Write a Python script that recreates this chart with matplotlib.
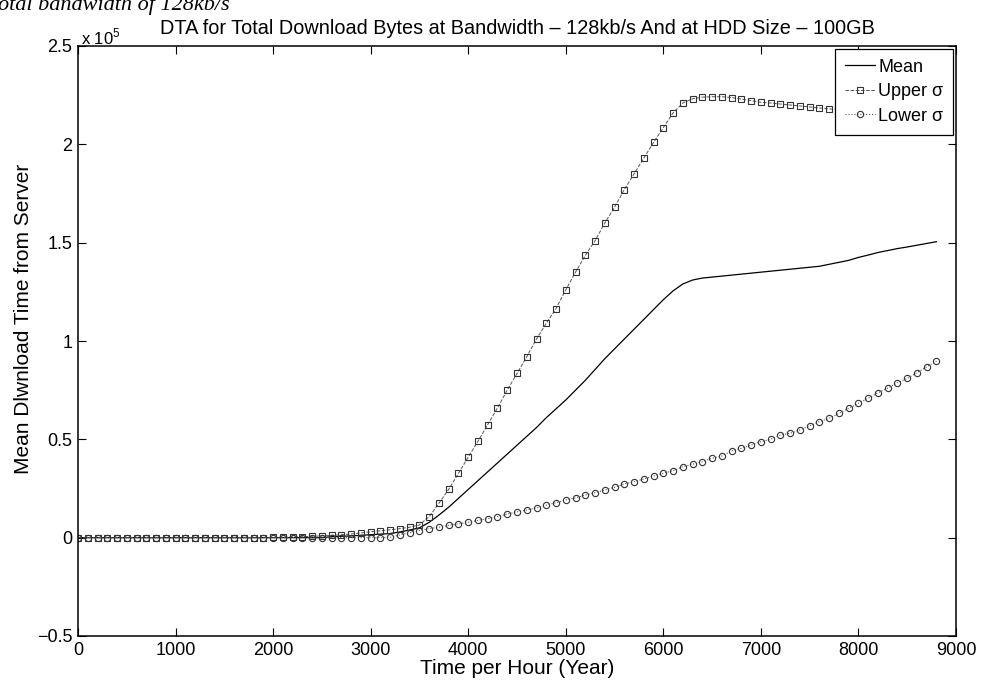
import numpy as np
import matplotlib
matplotlib.use('Agg')
import matplotlib.pyplot as plt
from matplotlib.ticker import FuncFormatter, MultipleLocator

plt.rcParams['font.family'] = ['Liberation Sans', 'DejaVu Sans']
plt.rcParams['mathtext.fontset'] = 'custom'
plt.rcParams['mathtext.rm'] = 'Liberation Sans'

# hours, one marker every 100 h
hours = list(range(0, 8900, 100))

# values in units of 1e5
mean_vals = [0.0] * 26 + [
    0.005, 0.007, 0.009, 0.012, 0.015, 0.018, 0.021, 0.029, 0.039, 0.05,
    0.078, 0.115, 0.155, 0.2, 0.245, 0.29, 0.335, 0.38, 0.425, 0.47,
    0.515, 0.56, 0.61, 0.655, 0.70, 0.75, 0.80, 0.855, 0.91, 0.96,
    1.01, 1.06, 1.11, 1.16, 1.21, 1.255, 1.29, 1.31, 1.32, 1.325,
    1.33, 1.335, 1.34, 1.345, 1.35, 1.355, 1.36, 1.365, 1.37, 1.375,
    1.38, 1.39, 1.40, 1.41, 1.425, 1.437, 1.45, 1.46, 1.47, 1.478,
    1.487, 1.496, 1.505]

upper_vals = [0.0] * 20 + [
    0.002, 0.003, 0.004, 0.005, 0.007, 0.009, 0.012, 0.015, 0.019, 0.024,
    0.03, 0.035, 0.04, 0.046, 0.053, 0.065, 0.107, 0.175, 0.246, 0.327,
    0.41, 0.49, 0.575, 0.66, 0.75, 0.835, 0.92, 1.01, 1.09, 1.165,
    1.26, 1.35, 1.435, 1.51, 1.60, 1.68, 1.77, 1.85, 1.93, 2.01,
    2.085, 2.16, 2.21, 2.232, 2.24, 2.242, 2.242, 2.238, 2.23, 2.222,
    2.214, 2.21, 2.205, 2.20, 2.195, 2.19, 2.185, 2.18, 2.178, 2.175,
    2.17, 2.165, 2.16, 2.155, 2.15, 2.14, 2.13, 2.12, 2.11]

lower_vals = [0.0] * 32 + [
    0.002, 0.014, 0.025, 0.036, 0.046, 0.053, 0.063, 0.07, 0.078, 0.088,
    0.097, 0.107, 0.12, 0.131, 0.141, 0.151, 0.165, 0.178, 0.192, 0.202,
    0.217, 0.229, 0.242, 0.256, 0.273, 0.285, 0.298, 0.314, 0.327, 0.341,
    0.361, 0.373, 0.386, 0.404, 0.415, 0.442, 0.454, 0.471, 0.488, 0.50,
    0.522, 0.531, 0.548, 0.569, 0.59, 0.607, 0.632, 0.658, 0.683, 0.709,
    0.737, 0.76, 0.788, 0.81, 0.839, 0.869, 0.898]

x = np.array(hours)
mean = np.array(mean_vals) * 1e5
upper = np.array(upper_vals) * 1e5
lower = np.array(lower_vals) * 1e5

W, H = 990, 692
fig = plt.figure(figsize=(W / 100, H / 100), dpi=100)
ax = fig.add_axes([78 / W, (H - 636) / H, (956 - 78) / W, (636 - 46) / H])

ax.plot(x, mean, '-', color='black', lw=0.9, label='Mean')
ax.plot(x, upper, '--', color='#555555', lw=0.7, marker='s', ms=4.5,
        mfc='none', mec='#333333', mew=0.8, label='Upper σ')
ax.plot(x, lower, ':', color='#555555', lw=0.8, marker='o', ms=4.5,
        mfc='none', mec='#333333', mew=0.8, label='Lower σ')

ax.set_xlim(0, 9000)
ax.set_ylim(-0.5e5, 2.5e5)
ax.xaxis.set_major_locator(MultipleLocator(1000))
ax.yaxis.set_major_locator(MultipleLocator(0.5e5))
ax.yaxis.set_major_formatter(FuncFormatter(lambda v, p: f'{v / 1e5:g}'.replace('-', '\u2212')))
ax.tick_params(direction='in', length=6, width=0.8, top=True, right=True,
               labelsize=13, pad=4, colors='black')
for s in ax.spines.values():
    s.set_linewidth(1.1)

ax.text(0.003, 0.998, 'x 10$^{5}$', transform=ax.transAxes, ha='left', va='bottom',
        fontsize=12)

ax.set_title('DTA for Total Download Bytes at Bandwidth \u2013 128kb/s And at HDD Size \u2013 100GB',
             fontsize=14.3, pad=9)
ax.set_xlabel('Time per Hour (Year)', fontsize=15, labelpad=0)
ax.set_ylabel('Mean Dlwnload Time from Server', fontsize=15)
ax.yaxis.set_label_coords(-0.051, 0.537)

leg = ax.legend(loc='upper right', fontsize=13, numpoints=1, fancybox=False,
                framealpha=1, edgecolor='black', borderaxespad=0.15,
                handlelength=1.65, handletextpad=0.2, labelspacing=0.42,
                borderpad=0.55)
leg.get_frame().set_linewidth(0.9)

fig.text(-0.002, 1 - 10 / H, 'otal bandwidth of 128kb/s', family='Liberation Serif',
         style='italic', fontsize=16, ha='left', va='baseline')

fig.savefig('out.png', dpi=100)
